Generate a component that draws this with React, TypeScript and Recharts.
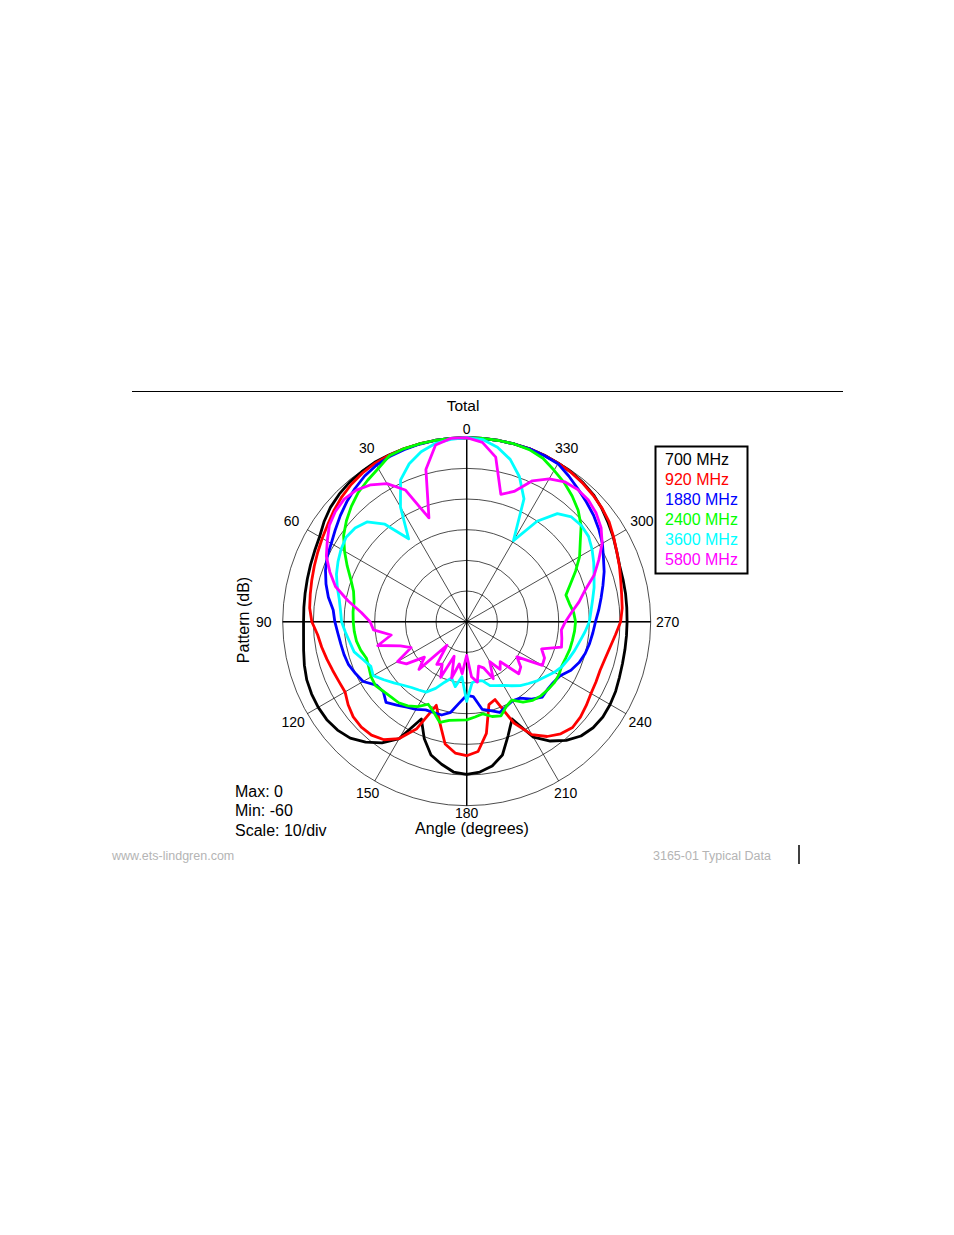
import React from 'react';
import { RadarChart, Radar, PolarGrid, PolarAngleAxis, PolarRadiusAxis } from 'recharts';

// angle in degrees, 0 at top, counting counter-clockwise
const angles = [
  0, 5, 10, 15, 20, 25, 30, 35, 40, 45, 50, 55,
  60, 65, 70, 75, 80, 85, 90, 95, 100, 105, 110, 115,
  120, 125, 130, 135, 140, 145, 150, 155, 160, 165, 170, 175,
  180, 185, 190, 195, 200, 205, 210, 215, 220, 225, 230, 235,
  240, 245, 250, 255, 260, 265, 270, 275, 280, 285, 290, 295,
  300, 305, 310, 315, 320, 325, 330, 335, 340, 345, 350, 355,
];

const tickAngles = [0, 30, 60, 90, 120, 150, 180, 210, 240, 270, 300, 330];

// pattern in dB, one value per angle above
const mhz700 = [
  0, 0, 0, 0, 0, 0, 0, -0.3, -0.6, -1.2, -2, -3.2,
  -4.6, -5.3, -5.8, -6.2, -6.5, -6.7, -6.8, -6.6, -6, -5.2, -4.5, -4.2,
  -4.1, -4.3, -5, -6.3, -8.7, -11.8, -16, -25, -19.5, -15, -12.8, -10.8,
  -10.2, -10.8, -12.2, -15, -20.5, -25, -16.5, -12.5, -9.5, -7.3, -6.2, -5.8,
  -6, -6.4, -7, -7.4, -7.6, -7.7, -7.7, -7.6, -7.4, -7.2, -6.9, -6,
  -4.8, -3.7, -2.5, -1.5, -0.9, -0.5, -0.3, -0.1, 0, 0, 0, 0,
];
const mhz920 = [
  0, 0, 0, 0, 0, -0.1, -0.3, -0.8, -1.5, -2.4, -3.5, -4.7,
  -5.6, -6.4, -7.1, -7.7, -8.2, -8.6, -9.5, -11.2, -12, -12.8, -13.5, -14,
  -14.2, -12.8, -11.7, -11.4, -11.7, -13, -16, -21.5, -31, -26, -19.5, -17,
  -16.3, -17.5, -23, -32, -33, -23.5, -17.5, -14.3, -12.3, -11.2, -11.6, -12.4,
  -13.2, -13.5, -13.7, -13.3, -12.5, -11.3, -9.8, -9.1, -8.7, -8, -7, -6,
  -4.7, -3.3, -2.4, -1.7, -1.1, -0.6, -0.3, -0.1, 0, 0, 0, 0,
];
const mhz1880 = [
  0, 0, 0, -0.1, -0.3, -0.6, -1.1, -2, -3.3, -4.7, -6.2, -7.7,
  -9, -9.8, -11, -12.5, -14.2, -16.3, -17, -17.8, -18.3, -18.6, -19, -20,
  -21, -24, -24.5, -22.8, -24.5, -26, -27, -28.3, -28.5, -28.5, -30, -33.5,
  -36, -35.5, -31, -30, -28.5, -29.5, -30.2, -29.6, -27, -25.2, -25.6, -25.5,
  -24.8, -22.5, -21, -20, -19.3, -18.7, -18, -16.8, -15.5, -14, -12.3, -10.8,
  -8.9, -7.4, -6, -4.8, -3.5, -2, -0.5, -0.2, 0, 0, 0, 0,
];
const mhz2400 = [
  0, 0, 0, 0, 0, -0.3, -2.3, -3.7, -5, -6.8, -8.8, -11,
  -14, -17, -19.8, -21.8, -22.7, -22.8, -23, -23.2, -23.5, -24.2, -25.2, -24.8,
  -24, -23.7, -24.6, -25.2, -25.5, -26.5, -28, -30.3, -28.6, -26, -27.3, -27.8,
  -28, -28.8, -29.5, -28, -27.3, -29.5, -30.5, -28, -26.5, -25.8, -25.5, -25.2,
  -25.3, -25.8, -25.6, -25.2, -25, -24.7, -24.5, -25, -26, -26.5, -24, -20.8,
  -17.5, -14.8, -11.3, -8.6, -6.5, -4.6, -3, -1.2, -0.3, 0, 0, 0,
];
const mhz3600 = [
  0, -0.3, -1, -2.6, -5.2, -9, -16.8, -27, -18.5, -14, -12.5, -12,
  -12.7, -13.7, -14.8, -16.3, -17.8, -18.7, -19.2, -20.3, -21.3, -22, -24, -25.5,
  -24.8, -27, -29, -30.7, -32, -32.8, -33.5, -36, -39, -41, -38.5, -42,
  -34, -40, -40.5, -40, -37.8, -37, -36, -34.5, -32.8, -31.5, -30, -28.7,
  -27, -25.6, -24.6, -23.6, -22.6, -21.3, -20, -19.3, -18.3, -17, -15.8, -14.3,
  -12.8, -11.5, -11.2, -11.7, -14, -20, -29.5, -15.8, -9.7, -5.2, -2.2, -0.4,
];
const mhz5800 = [
  0, 0, -1.5, -8.6, -24, -12.6, -8, -5.5, -4, -3.5, -4.1, -5.3,
  -7.5, -9.5, -12.5, -15.7, -20.7, -25.5, -28.5, -29.5, -35, -30, -37, -40,
  -34, -36, -42, -38, -50, -43, -44, -40, -48, -41, -46, -43,
  -49, -42, -40, -45, -44, -39.5, -45, -41, -43, -36, -37, -40,
  -31.5, -32, -34, -28, -28.5, -29, -27.8, -25.7, -22.8, -20, -15.8, -12.5,
  -9, -6.5, -4.9, -3.9, -3.7, -4.3, -6.2, -9.3, -14.8, -17, -5.5, -1.3,
];

const seriesList = [
  { key: 'mhz700', name: '700 MHz', color: '#000000', values: mhz700 },
  { key: 'mhz920', name: '920 MHz', color: '#ff0000', values: mhz920 },
  { key: 'mhz1880', name: '1880 MHz', color: '#0000ff', values: mhz1880 },
  { key: 'mhz2400', name: '2400 MHz', color: '#00ff00', values: mhz2400 },
  { key: 'mhz3600', name: '3600 MHz', color: '#00ffff', values: mhz3600 },
  { key: 'mhz5800', name: '5800 MHz', color: '#ff00ff', values: mhz5800 },
];

const chartData = angles.map((angle, i) => {
  const row: any = { angle };
  seriesList.forEach((s) => {
    row[s.key] = s.values[i];
  });
  return row;
});

const FONT = '"Liberation Sans", Arial, sans-serif';

// push the angle labels a bit further out on the sides, where the text is wider
const AngleTick = (props: any) => {
  const { x, y, payload } = props;
  const t = (payload.value * Math.PI) / 180;
  const push = 10 * Math.sqrt(Math.abs(Math.sin(t))) + (Math.cos(t) < 0 ? -1 : 1);
  return (
    <text
      x={x - Math.sin(t) * push}
      y={y - Math.cos(t) * push}
      textAnchor="middle"
      dominantBaseline="central"
      fontSize={14}
      fontFamily={FONT}
      fill="#000"
    >
      {payload.value}
    </text>
  );
};

export default function App() {
  return (
    <div style={{ position: 'absolute', left: 0, top: 0, width: 954, height: 1235, background: '#fff' }}>
      <RadarChart
        width={954}
        height={1235}
        data={chartData}
        cx={466.7}
        cy={621.7}
        outerRadius={184}
        startAngle={90}
        endAngle={450}
        margin={{ top: 0, right: 0, bottom: 0, left: 0 }}
      >
        <PolarGrid gridType="circle" stroke="#000" strokeWidth={0.7} />
        <PolarGrid gridType="circle" polarAngles={[0, 90, 180, 270]} polarRadius={[0]} stroke="#000" strokeWidth={1.4} />
        <PolarAngleAxis
          dataKey="angle"
          type="number"
          domain={[0, 360]}
          ticks={tickAngles}
          tick={<AngleTick />}
          tickLine={false}
          axisLine={false}
        />
        <PolarRadiusAxis domain={[-60, 0]} tickCount={7} tick={false} axisLine={false} />
        {seriesList.map((s) => (
          <Radar
            key={s.key}
            name={s.name}
            dataKey={s.key}
            stroke={s.color}
            strokeWidth={2.8}
            strokeLinejoin="round"
            fill="none"
            fillOpacity={0}
            dot={false}
            isAnimationActive={false}
          />
        ))}
      </RadarChart>

      <svg
        width={954}
        height={1235}
        style={{ position: 'absolute', left: 0, top: 0, pointerEvents: 'none' }}
        fontFamily={FONT}
      >
        <line x1={132} y1={391.5} x2={843} y2={391.5} stroke="#000" strokeWidth={1} />
        <text x={463} y={410.5} textAnchor="middle" fontSize={15.5}>Total</text>

        <text transform="translate(249,620) rotate(-90)" textAnchor="middle" fontSize={16}>Pattern (dB)</text>
        <text x={472} y={834} textAnchor="middle" fontSize={16}>Angle (degrees)</text>

        <text x={235} y={796.5} fontSize={16}>Max: 0</text>
        <text x={235} y={816} fontSize={16}>Min: -60</text>
        <text x={235} y={835.5} fontSize={16}>Scale: 10/div</text>

        <rect x={655.5} y={446.5} width={92} height={127} fill="#fff" stroke="#000" strokeWidth={2} />
        {seriesList.map((s, i) => (
          <text key={s.key} x={665} y={465 + i * 20} fontSize={16} fill={s.color}>
            {s.name}
          </text>
        ))}

        <text x={112} y={859.5} fontSize={12.5} fill="#b4b4b4">www.ets-lindgren.com</text>
        <text x={653} y={859.5} fontSize={12.5} fill="#b4b4b4">3165-01 Typical Data</text>
        <line x1={799} y1={845} x2={799} y2={864} stroke="#000" strokeWidth={1.5} />
      </svg>
    </div>
  );
}
